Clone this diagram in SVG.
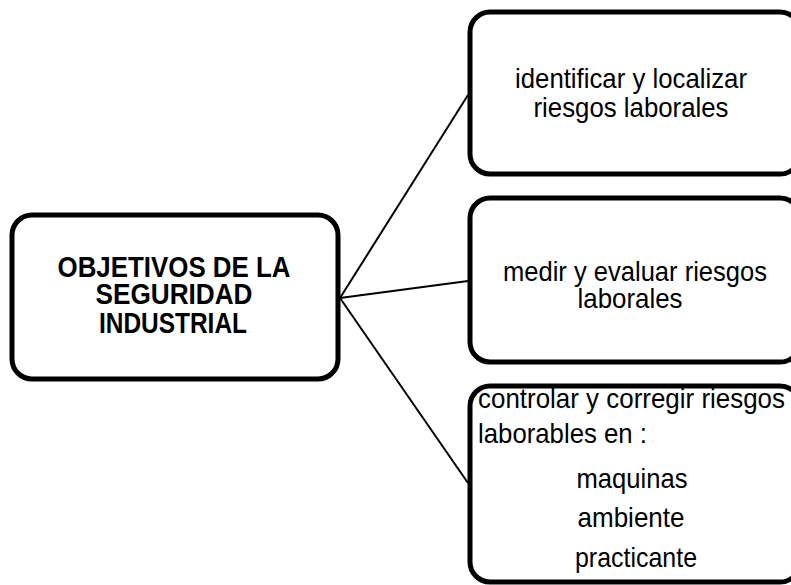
<svg xmlns="http://www.w3.org/2000/svg" width="791" height="585" viewBox="0 0 791 585">
<style>
.box{fill:#fff;stroke:#000;stroke-width:5}
.t{font-family:"Liberation Sans",Arial,sans-serif;font-size:28px;fill:#000}
.b{font-weight:bold;text-anchor:middle;font-size:29px}
.c{text-anchor:middle}
.ln{stroke:#000;stroke-width:2;fill:none}
</style>
<rect width="791" height="585" fill="#fff"/>
<g id="connectors">
<line class="ln" x1="340" y1="298" x2="468" y2="95"/>
<line class="ln" x1="340" y1="298" x2="468" y2="281"/>
<line class="ln" x1="340" y1="298" x2="468" y2="483"/>
</g>
<g id="main">
<rect class="box" x="12" y="215" width="326" height="164" rx="20"/>
<text class="t b" x="174" y="277" textLength="233" lengthAdjust="spacingAndGlyphs">OBJETIVOS DE LA</text>
<text class="t b" x="174" y="304" textLength="157" lengthAdjust="spacingAndGlyphs">SEGURIDAD</text>
<text class="t b" x="173" y="333" textLength="148" lengthAdjust="spacingAndGlyphs">INDUSTRIAL</text>
</g>
<g id="n1">
<rect class="box" x="470" y="12" width="330" height="162" rx="20"/>
<text class="t c" x="631" y="88" textLength="232" lengthAdjust="spacingAndGlyphs">identificar y localizar</text>
<text class="t c" x="631" y="117" textLength="195" lengthAdjust="spacingAndGlyphs">riesgos laborales</text>
</g>
<g id="n2">
<rect class="box" x="470" y="198" width="330" height="164" rx="20"/>
<text class="t c" x="635" y="281" textLength="264" lengthAdjust="spacingAndGlyphs">medir y evaluar riesgos</text>
<text class="t c" x="630" y="308" textLength="105" lengthAdjust="spacingAndGlyphs">laborales</text>
</g>
<g id="n3">
<rect class="box" x="470" y="386" width="330" height="196" rx="20"/>
<text class="t" x="478" y="408" textLength="307" lengthAdjust="spacingAndGlyphs">controlar y corregir riesgos</text>
<text class="t" x="478" y="443" textLength="169" lengthAdjust="spacingAndGlyphs">laborables en :</text>
<text class="t c" x="632" y="488" textLength="111" lengthAdjust="spacingAndGlyphs">maquinas</text>
<text class="t c" x="631" y="527" textLength="107" lengthAdjust="spacingAndGlyphs">ambiente</text>
<text class="t c" x="636" y="567" textLength="122" lengthAdjust="spacingAndGlyphs">practicante</text>
</g>
</svg>
